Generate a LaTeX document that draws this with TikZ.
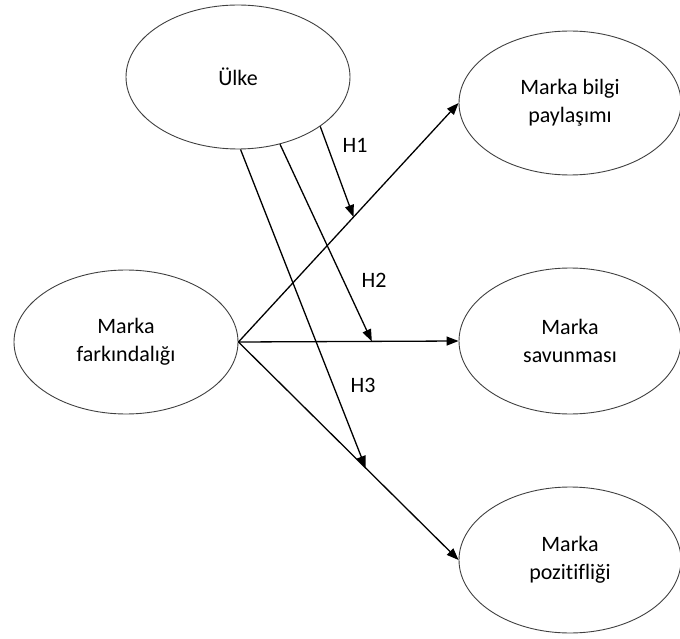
\documentclass[tikz,border=0pt]{standalone}
\usepackage{fontspec}
\setmainfont{Carlito}[Ligatures={NoCommon,NoRare}]
\usetikzlibrary{shapes.geometric,arrows.meta,calc}
\begin{document}
\begin{tikzpicture}[x=1pt,y=-1pt,
  oval/.style={ellipse,draw=black!75,line width=0.9pt,minimum width=224pt,minimum height=144pt,inner sep=0pt,align=center,font=\fontsize{22}{28}\selectfont},
  link/.style={draw=black,line width=1.3pt,-{Triangle[length=12pt,width=9pt]}},
  hlab/.style={font=\fontsize{22}{26}\selectfont}]
\useasboundingbox (0,0) rectangle (680,639);
\node[oval] (ulke) at (238,77) {Ülke};
\node[oval,minimum width=222pt] (mb) at (570,103) {Marka bilgi\\paylaşımı};
\node[oval] (mf) at (126,342) {Marka\\farkındalığı};
\node[oval,minimum width=222pt,minimum height=146pt] (ms) at (570,341) {Marka\\savunması};
\node[oval,minimum width=222pt,minimum height=146pt] (mp) at (570,560) {Marka\\pozitifliği};
\draw[link] (mf.east) -- (mb.west);
\draw[link] (mf.east) -- (ms.west);
\draw[link] (mf.east) -- (mp.west);
\coordinate (t1) at ($(mf.east)!0.523!(mb.west)$);
\coordinate (t2) at ($(mf.east)!0.606!(ms.west)$);
\coordinate (t3) at ($(mf.east)!0.578!(mp.west)$);
\draw[link] (ulke.-31.4) -- (t1);
\draw[link] (ulke.-58.9) -- (t2);
\draw[link] (ulke.-88.4) -- (t3);
\node[hlab] (h1) at (355,145) {H1};
\node[hlab] (h2) at (374,280) {H2};
\node[hlab] (h3) at (363,385) {H3};
\end{tikzpicture}
\end{document}
